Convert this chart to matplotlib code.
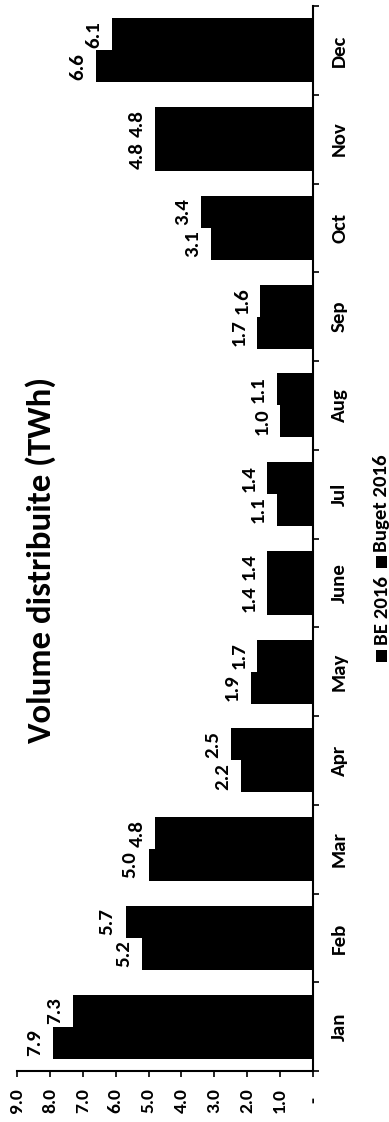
import matplotlib
matplotlib.use("Agg")
import matplotlib.pyplot as plt
from matplotlib.patches import Rectangle
import numpy as np

months = ['Jan', 'Feb', 'Mar', 'Apr', 'May', 'June', 'Jul', 'Aug', 'Sep', 'Oct', 'Nov', 'Dec']
be_2016 = [7.9, 5.2, 5.0, 2.2, 1.9, 1.4, 1.1, 1.0, 1.7, 3.1, 4.8, 6.6]
buget_2016 = [7.3, 5.7, 4.8, 2.5, 1.7, 1.4, 1.4, 1.1, 1.6, 3.4, 4.8, 6.1]
value_ticks = [0, 1, 2, 3, 4, 5, 6, 7, 8, 9]
value_tick_labels = ['-', '1.0', '2.0', '3.0', '4.0', '5.0', '6.0', '7.0', '8.0', '9.0']
series_names = ['BE 2016', 'Buget 2016']
title = 'Volume distribuite (TWh)'

plt.rcParams['font.family'] = ['Carlito', 'DejaVu Sans']
plt.rcParams['font.weight'] = 'bold'

W, H = 389, 1122
fig = plt.figure(figsize=(W / 100, H / 100), dpi=100)
fig.patch.set_facecolor('white')

ax = fig.add_axes([17 / W, (H - 1071) / H, (313 - 17) / W, (1071 - 6) / H])

y = np.arange(len(months))
h = 0.36
ax.barh(y - h / 2, be_2016, height=h, color='black', label=series_names[0])
ax.barh(y + h / 2, buget_2016, height=h, color='black', label=series_names[1])

for yi, v in zip(y - h / 2, be_2016):
    ax.annotate(f"{v:.1f}", xy=(v, yi), xytext=(-7, 0), textcoords='offset points',
                rotation=90, ha='right', va='center', fontsize=15, fontweight='bold')
for yi, v in zip(y + h / 2, buget_2016):
    ax.annotate(f"{v:.1f}", xy=(v, yi), xytext=(-7, 0), textcoords='offset points',
                rotation=90, ha='right', va='center', fontsize=15, fontweight='bold')

ax.set_xlim(9, 0)
ax.set_ylim(-0.5, len(months) - 0.5)

ax.set_xticks(value_ticks)
ax.set_xticklabels(value_tick_labels, rotation=90, ha='center', va='center', fontsize=14, fontweight='bold')
ax.tick_params(axis='x', direction='out', length=4, width=1.2, pad=17)

ax.yaxis.tick_right()
ax.set_yticks(y)
ax.set_yticklabels(months, rotation=90, ha='left', va='center', fontsize=15, fontweight='bold')
ax.set_yticks(np.arange(-0.5, len(months), 1), minor=True)
ax.tick_params(axis='y', which='major', length=0, pad=13)
ax.tick_params(axis='y', which='minor', direction='out', length=4, width=1.2)

for s in ['top', 'left']:
    ax.spines[s].set_visible(False)
for s in ['bottom', 'right']:
    ax.spines[s].set_linewidth(1.5)
    ax.spines[s].set_color('black')

fig.text(41 / W, 1 - 560 / H, title, rotation=90, ha='center', va='center',
         fontsize=25, fontweight='bold')

# legend (manual, rotated)
fig.add_artist(Rectangle((376 / W, 1 - 662 / H), 11 / W, 12 / H, transform=fig.transFigure,
                         facecolor='black', edgecolor='none'))
fig.text(382 / W, 1 - 645 / H, series_names[0], rotation=90, ha='center', va='bottom',
         fontsize=15, fontweight='bold')
fig.add_artist(Rectangle((376 / W, 1 - 568 / H), 11 / W, 12 / H, transform=fig.transFigure,
                         facecolor='black', edgecolor='none'))
fig.text(382 / W, 1 - 552 / H, series_names[1], rotation=90, ha='center', va='bottom',
         fontsize=15, fontweight='bold')

fig.savefig('out.png', dpi=100)
